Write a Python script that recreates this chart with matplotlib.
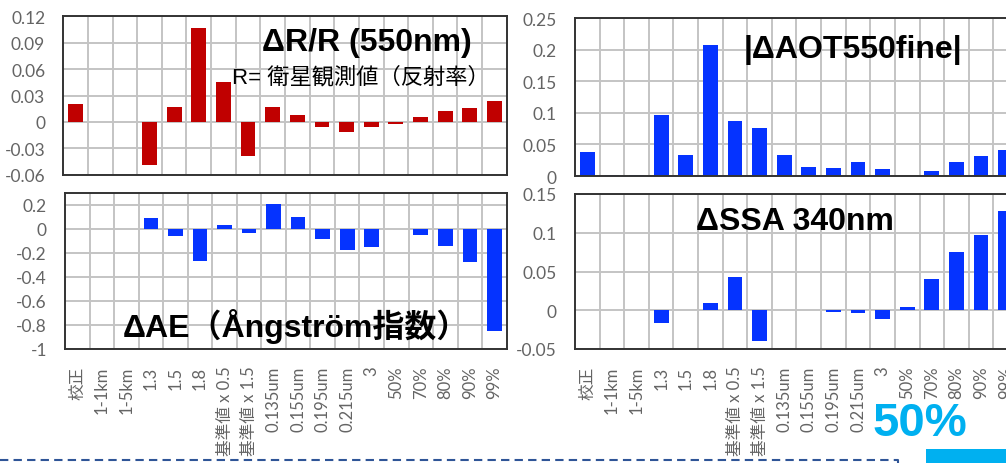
import matplotlib
matplotlib.use("Agg")
import matplotlib.pyplot as plt
from matplotlib.patches import Rectangle
from matplotlib.lines import Line2D

plt.rcParams['font.family'] = ['Lato', 'Noto Sans CJK JP', 'DejaVu Sans']

categories = ["校正", "1-1km", "1-5km", "1.3", "1.5", "1.8",
              "基準値 x 0.5", "基準値 x 1.5", "0.135um", "0.155um",
              "0.195um", "0.215um", "3", "50%", "70%", "80%", "90%", "99%"]

d_refl = [0.020, -0.0006, -0.0006, -0.049, 0.0174, 0.1068, 0.0457, -0.0392,
          0.0174, 0.0083, -0.006, -0.012, -0.006, -0.002, 0.0057, 0.0128,
          0.0158, 0.0234]
d_ae = [0.0, 0.0, 0.0, 0.093, -0.062, -0.265, 0.037, -0.031, 0.21, 0.104,
        -0.085, -0.175, -0.152, 0.0, -0.05, -0.14, -0.276, -0.85]
d_aot = [0.038, 0.001, 0.001, 0.0962, 0.0338, 0.207, 0.0877, 0.0756, 0.0338,
         0.0148, 0.0127, 0.0227, 0.0106, 0.0005, 0.0085, 0.0227, 0.0317,
         0.0418]
d_ssa = [0.0, 0.0, 0.0, -0.0165, 0.0, 0.0096, 0.0435, -0.040, 0.0, 0.0,
         -0.002, -0.004, -0.011, 0.0043, 0.040, 0.0748, 0.097, 0.128]

RED = "#c00000"
BLUE = "#0533ff"
GRID = "#c4c4c4"
TICK = "#646464"

W, H = 1006, 464
fig = plt.figure(figsize=(W / 100, H / 100), dpi=100)


def box(x0, y0, x1, y1):
    return [x0 / W, 1 - y1 / H, (x1 - x0) / W, (y1 - y0) / H]


def panel(rect, values, color, ylim, yticks, ylabels, xlabels):
    ax = fig.add_axes(rect)
    n = len(values)
    x = list(range(n))
    ax.bar(x, values, width=0.6, color=color, zorder=3)
    ax.set_xlim(-0.5, n - 0.5)
    ax.set_ylim(*ylim)
    for b in range(1, n):
        ax.axvline(b - 0.5, color=GRID, lw=1.4, zorder=1)
    for t in yticks:
        ax.axhline(t, color=GRID, lw=1.4, zorder=1)
    ax.set_yticks(yticks)
    ax.set_yticklabels(ylabels, fontsize=12.5, color=TICK)
    ax.tick_params(axis="y", length=0, pad=13)
    ax.tick_params(axis="x", length=0, pad=12)
    if xlabels:
        ax.set_xticks(x)
        ax.set_xticklabels(categories, rotation=90, fontsize=12, color=TICK,
                           va="top", ha="center")
    else:
        ax.set_xticks([])
    for s in ax.spines.values():
        s.set_color("#333333")
        s.set_linewidth(1.4)
        s.set_zorder(4)
    return ax


ax1 = panel(box(63.3, 17.3, 506.7, 175.7), d_refl, RED, (-0.06, 0.12),
            [-0.06, -0.03, 0, 0.03, 0.06, 0.09, 0.12],
            ["-0.06", "-0.03", "0", "0.03", "0.06", "0.09", "0.12"], False)
ax2 = panel(box(65, 194, 506.7, 350), d_ae, BLUE, (-1, 0.3),
            [-1, -0.8, -0.6, -0.4, -0.2, 0, 0.2],
            ["-1", "-0.8", "-0.6", "-0.4", "-0.2", "0", "0.2"], True)
ax3 = panel(box(575, 19, 1018, 177), d_aot, BLUE, (0, 0.25),
            [0, 0.05, 0.1, 0.15, 0.2, 0.25],
            ["0", "0.05", "0.1", "0.15", "0.2", "0.25"], False)
ax4 = panel(box(575, 195, 1018, 350), d_ssa, BLUE, (-0.05, 0.15),
            [-0.05, 0, 0.05, 0.1, 0.15],
            ["-0.05", "0", "0.05", "0.1", "0.15"], True)

title_font = dict(family=["Liberation Sans", "Noto Sans CJK JP"],
                  fontweight="bold", fontsize=23, color="black")
fig.text(367 / W, 1 - 43 / H, "ΔR/R (550nm)", ha="center", va="center",
         zorder=10, **title_font)
fig.text(361 / W, 1 - 78 / H, "R= 衛星観測値（反射率）", ha="center",
         va="center", fontsize=16, color="black",
         family=["Liberation Sans", "Noto Sans CJK JP"], zorder=10)
fig.text(853 / W, 1 - 50 / H, "|ΔAOT550fine|", ha="center", va="center",
         zorder=10, **title_font)
fig.text(795 / W, 1 - 222 / H, "ΔSSA 340nm", ha="center", va="center",
         zorder=10, **title_font)
fig.text(296 / W, 1 - 327 / H, "ΔAE（Ångström指数）", ha="center",
         va="center", zorder=10, **title_font)

# slide decorations along the bottom edge
fig.text(920 / W, 1 - 424 / H, "50%", ha="center", va="center",
         fontsize=34, fontweight="bold", color="#00b0f0",
         family="Liberation Sans")
fig.add_artist(Rectangle((926 / W, 0), (W - 926) / W, (464 - 450) / H,
                         transform=fig.transFigure, color="#00b0f0", lw=0))
fig.add_artist(Line2D([0, 898 / W, 898 / W], [1 - 461 / H, 1 - 461 / H, 0],
                      transform=fig.transFigure, color="#2f5597", lw=1.5,
                      ls=(0, (4, 2.5))))

fig.savefig("out.png", dpi=100)
